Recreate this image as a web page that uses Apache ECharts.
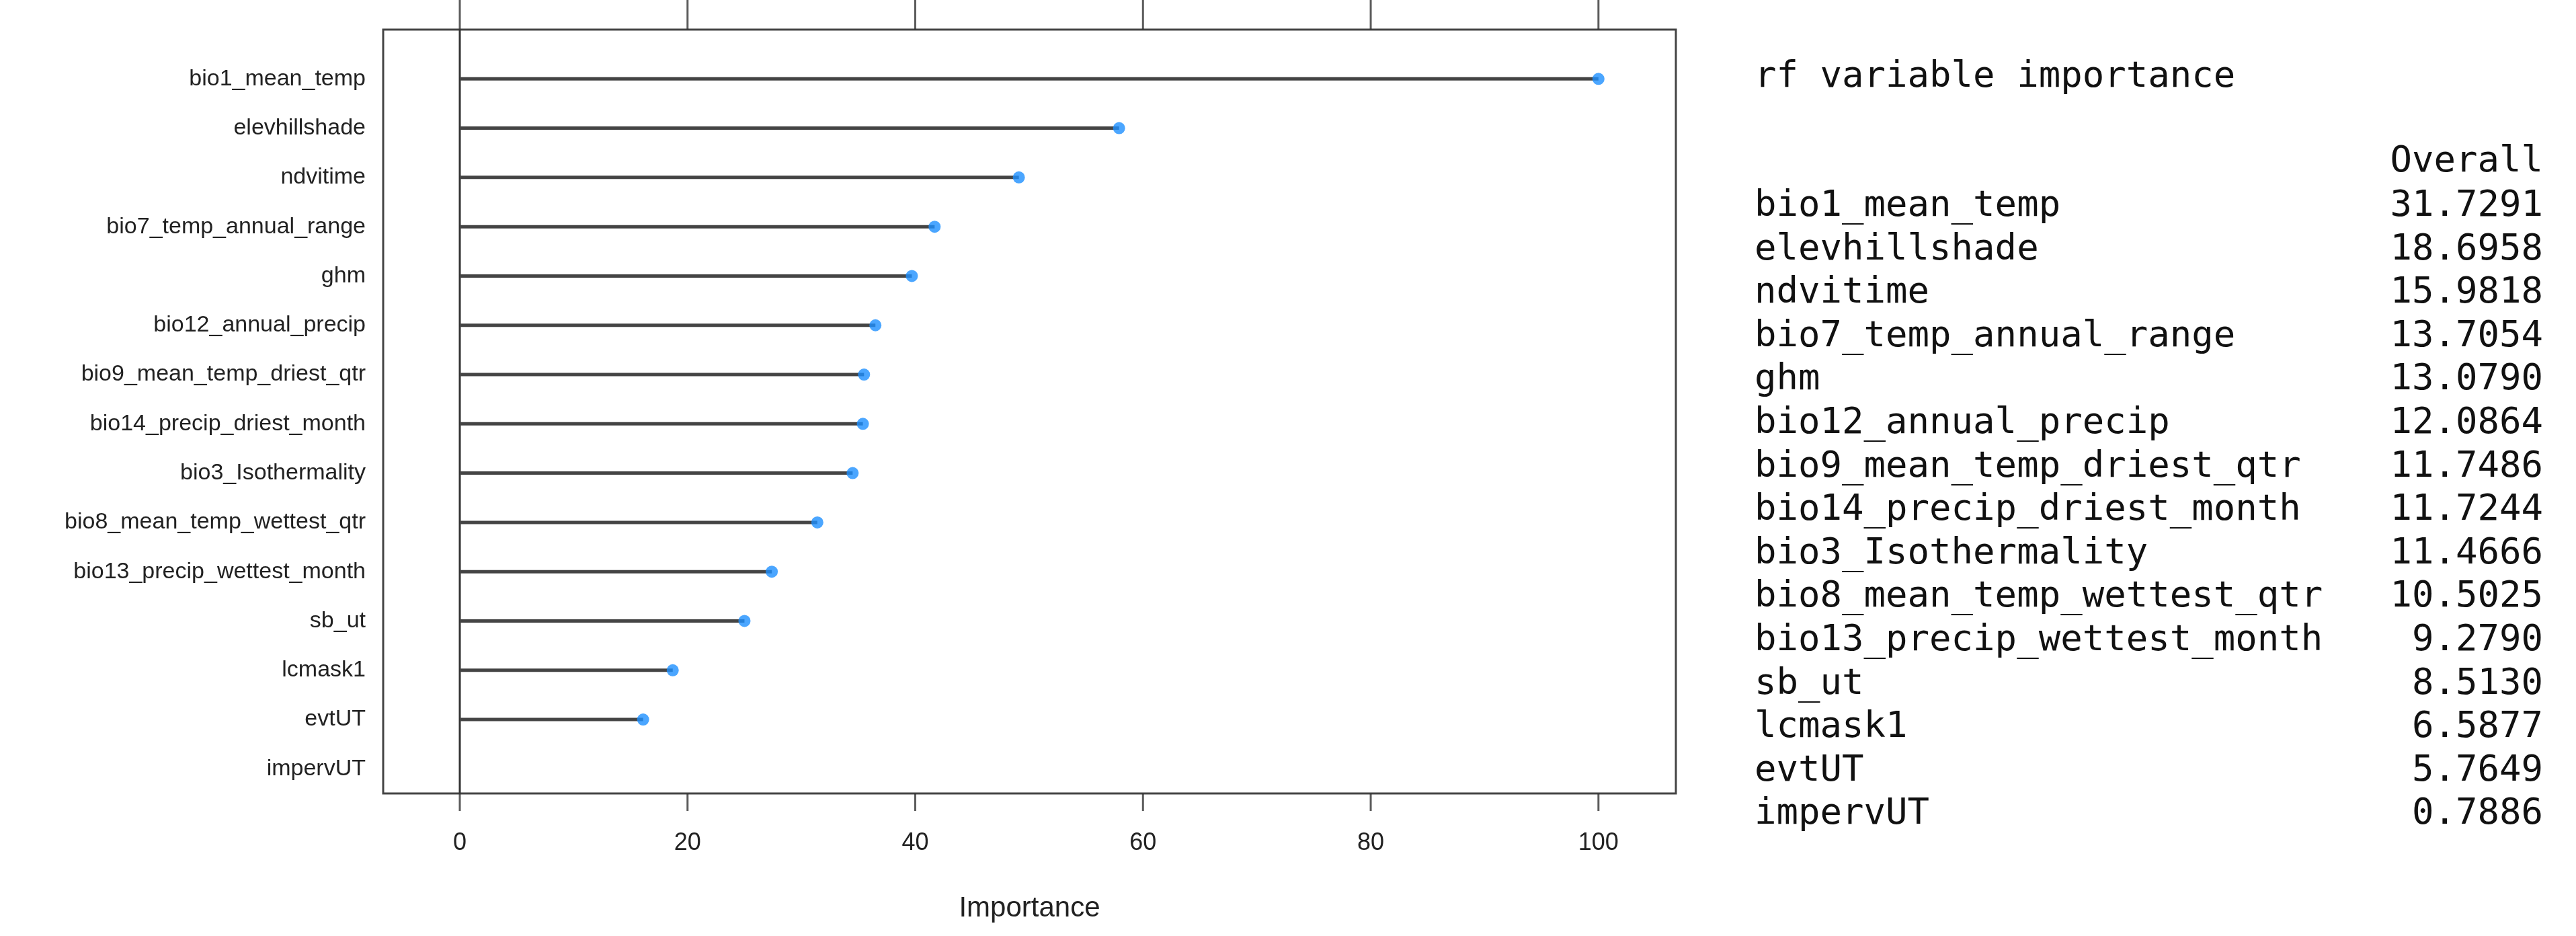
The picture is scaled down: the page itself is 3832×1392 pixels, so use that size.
<!DOCTYPE html>
<html>
<head>
<meta charset="utf-8">
<script src="https://cdn.jsdelivr.net/npm/echarts@6/dist/echarts.min.js"></script>
<style>html,body{margin:0;background:#fff}#chart{width:3832px;height:1392px}</style>
</head>
<body>
<div id="chart"></div>
<script>
const names = ["bio1_mean_temp", "elevhillshade", "ndvitime", "bio7_temp_annual_range", "ghm",
	"bio12_annual_precip", "bio9_mean_temp_driest_qtr", "bio14_precip_driest_month", "bio3_Isothermality",
	"bio8_mean_temp_wettest_qtr", "bio13_precip_wettest_month", "sb_ut", "lcmask1", "evtUT", "impervUT"]
// scaled importance as plotted
const importance = [100, 57.9, 49.1, 41.7, 39.7, 36.5, 35.5, 35.4, 34.5, 31.4, 27.4, 25.0, 18.7, 16.1, 0]
// raw table column "Overall"
const overall = ["31.7291", "18.6958", "15.9818", "13.7054", "13.0790", "12.0864", "11.7486", "11.7244",
	"11.4666", "10.5025", "9.2790", "8.5130", "6.5877", "5.7649", "0.7886"]
const xTicks = [0, 20, 40, 60, 80, 100]

const chart = echarts.init(document.getElementById("chart"))
const mono = "'DejaVu Sans Mono', 'Liberation Mono', monospace"
const narrow = "'Liberation Sans Narrow', 'Liberation Sans', Arial, sans-serif"

const tableText = []
tableText.push({ type: "text", left: 2610, top: 88, style: { text: "rf variable importance", font: "54px " + mono, fill: "#111" } })
tableText.push({ type: "text", right: 3832 - 3783, top: 214, style: { text: "Overall", font: "54px " + mono, fill: "#111" } })
names.forEach((n, i) => {
	tableText.push({ type: "text", left: 2610, top: 280 + i * 64.6, style: { text: n, font: "54px " + mono, fill: "#111" } })
	tableText.push({ type: "text", right: 3832 - 3783, top: 280 + i * 64.6, style: { text: overall[i], font: "54px " + mono, fill: "#111" } })
})

chart.setOption({
	animation: false,
	graphic: tableText,
	grid: { left: 570, right: 1339, top: 44, height: 1136, show: true, borderColor: "#444", borderWidth: 3 },
	xAxis: {
		type: "value", min: -6.73, max: 106.8, position: "bottom",
		axisLine: { show: false }, splitLine: { show: false }, axisTick: { show: false },
		axisLabel: { customValues: xTicks, fontSize: 36, color: "#222", fontFamily: narrow, margin: 56 },
		name: "Importance", nameLocation: "middle", nameGap: 150,
		nameTextStyle: { fontSize: 42, color: "#222", fontFamily: narrow }
	},
	yAxis: {
		type: "value", inverse: true, min: -1, max: 14.5, interval: 1,
		axisLine: { show: false }, axisTick: { show: false }, splitLine: { show: false },
		axisLabel: {
			fontSize: 34, color: "#222", fontFamily: narrow, margin: 26,
			formatter: v => (v >= 0 && v < names.length && Number.isInteger(v)) ? names[v] : ""
		}
	},
	series: [
		{
			type: "line",
			data: [[0, -1], [0, 14.5]],
			symbol: "none",
			lineStyle: { color: "#333", width: 3 },
			silent: true
		},
		...names.map((n, i) => ({
			type: "line",
			data: [[0, i], [importance[i], i]],
			symbol: "none",
			lineStyle: { color: "#444", width: 5 },
			silent: true
		})),
		{
			// top ticks, outside the box
			type: "scatter", data: xTicks.map(v => [v, -1]), clip: false, silent: true,
			symbol: "rect", symbolSize: [3, 44], symbolOffset: [0, -22],
			itemStyle: { color: "#333" }
		},
		{
			// bottom ticks, outside the box
			type: "scatter", data: xTicks.map(v => [v, 14.5]), clip: false, silent: true,
			symbol: "rect", symbolSize: [3, 26], symbolOffset: [0, 13],
			itemStyle: { color: "#333" }
		},
		{
			type: "scatter",
			data: importance.slice(0, 14).map((v, i) => [v, i]),
			symbol: "circle",
			symbolSize: 18,
			itemStyle: { color: "#1e90ff" },
			z: 5
		}
	]
})
</script>
</body>
</html>
